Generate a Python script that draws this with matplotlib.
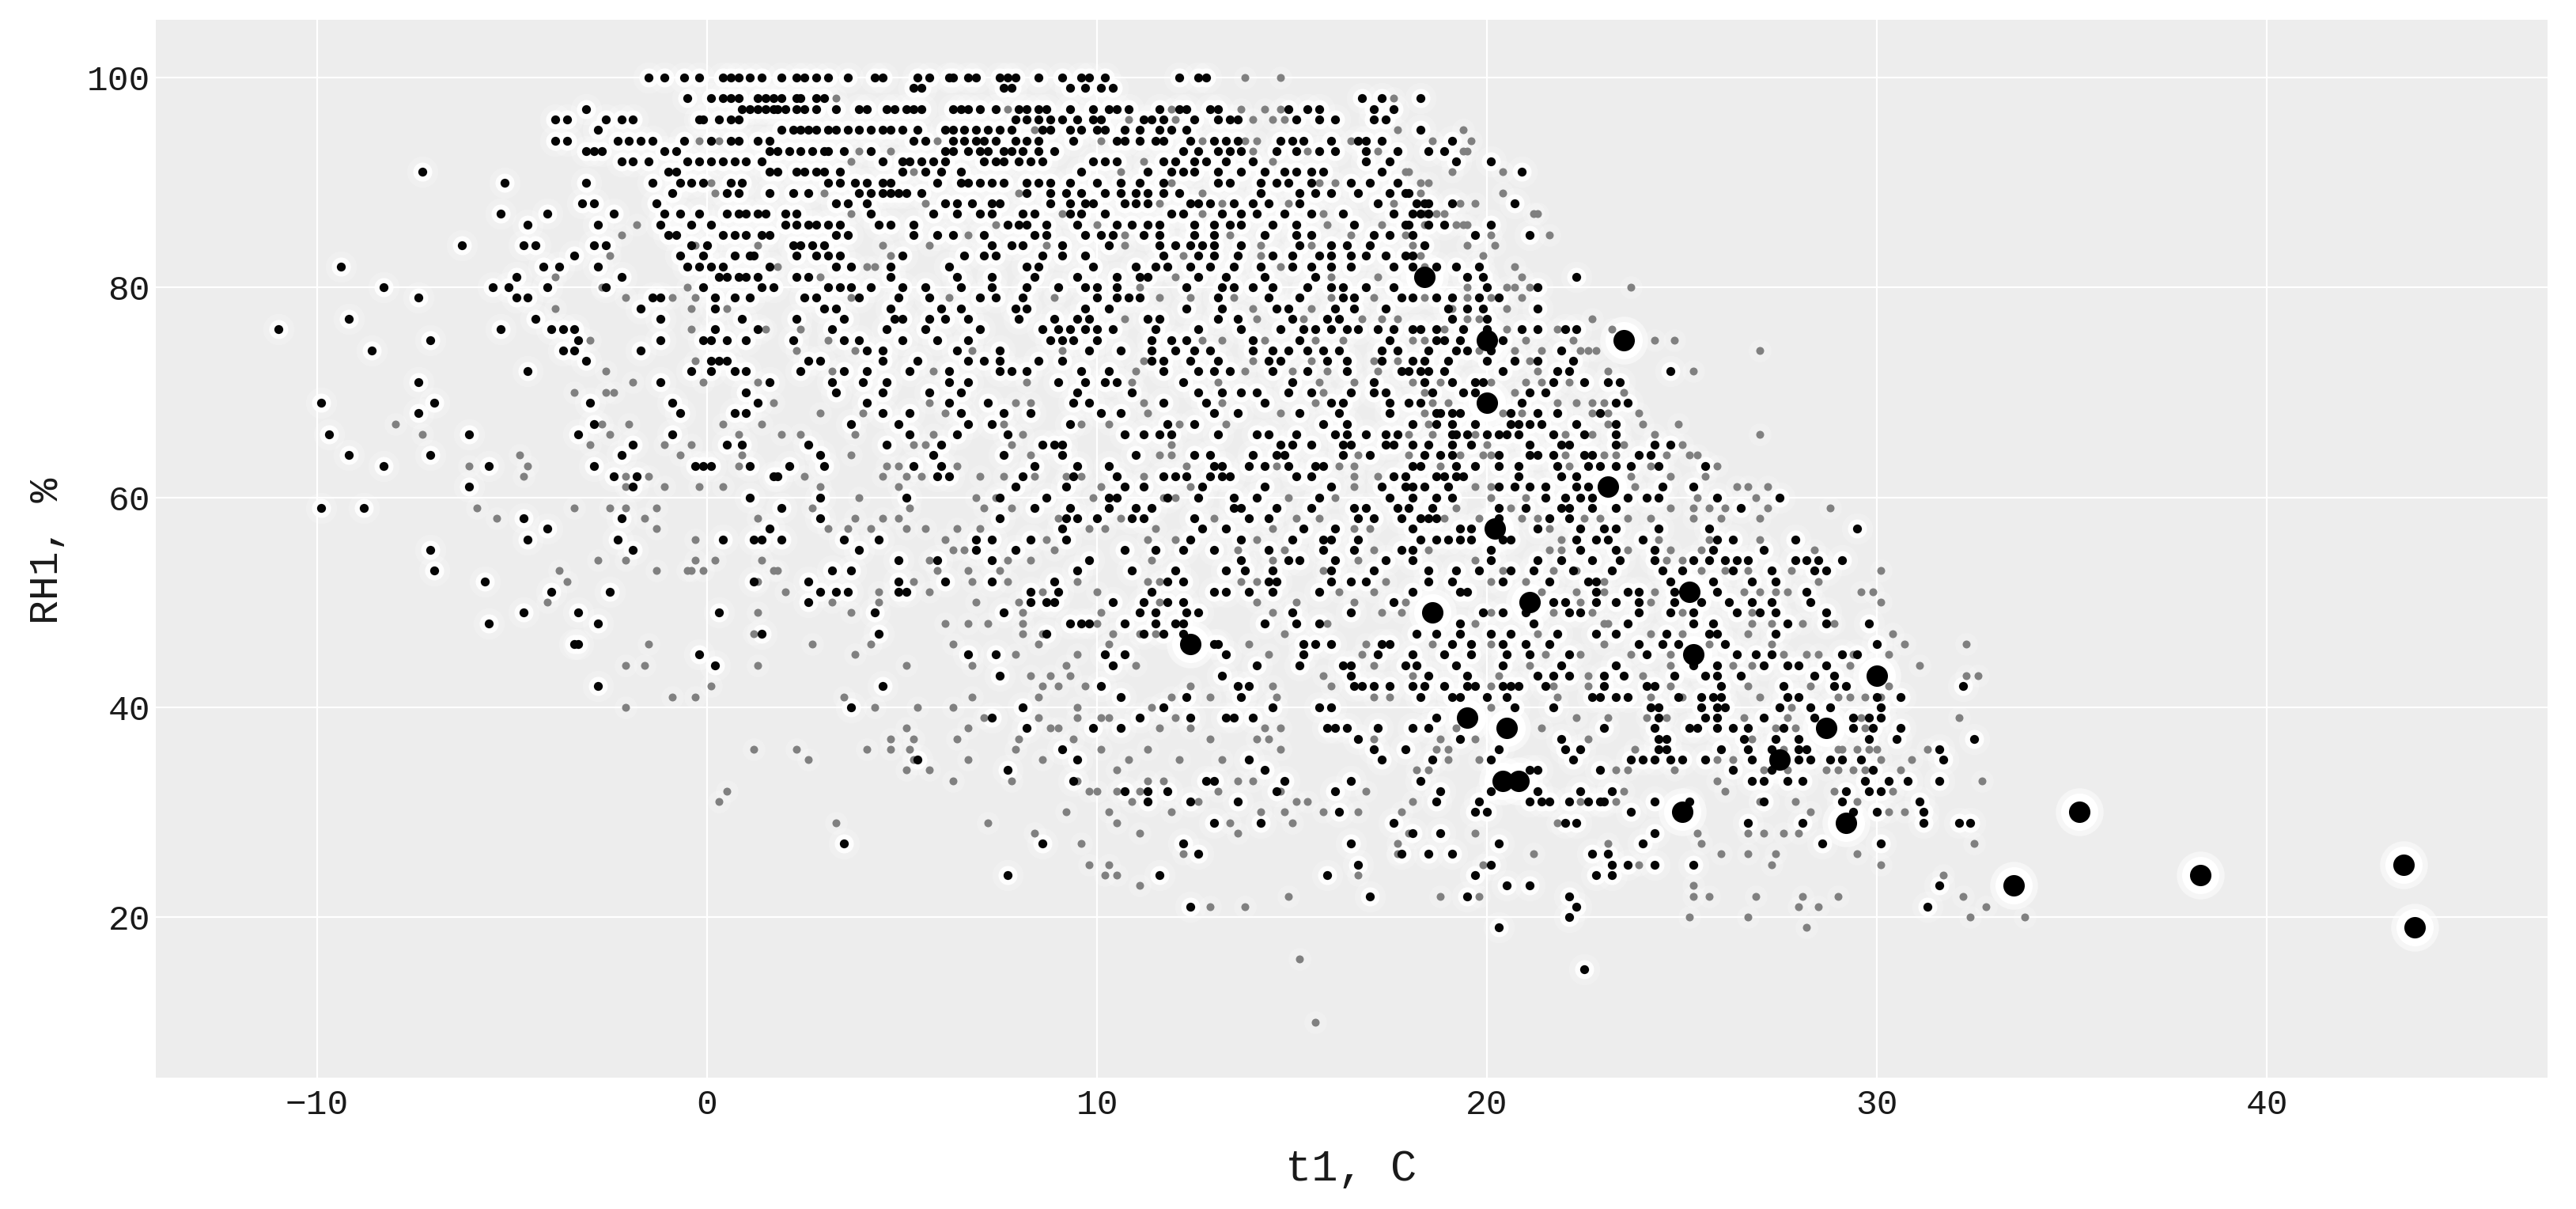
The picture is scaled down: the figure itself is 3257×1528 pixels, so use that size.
import matplotlib
matplotlib.use("Agg")
import matplotlib.pyplot as plt

# Dark points: d<RH> = temperatures read along that RH row. Gray points: g<RH>.
d100 = [-1.5,-1.1,-0.6,-0.2,0.4,0.6,0.8,1.1,1.4,1.9,2.3,2.5,2.8,3.1,3.6,4.3,4.5,5.4,5.7,6.2,6.3,6.7,6.9,7.5,7.7,7.9,8.5,9.1,9.6,9.8,10.2,12.1,12.6,12.8]
g100 = [13.8,14.7]
d99 = [5.3,5.5,7.6,7.8,9.3,9.7,10.1,10.4]
g99 = []
d98 = [-0.5,0.1,0.4,0.6,0.8,1.3,1.5,1.7,1.9,2.3,2.4,2.8,3.0,16.8,17.3,18.3]
g98 = [3.3,17.6]
d97 = [-3.1,0.9,1.1,1.3,1.5,1.7,1.8,2.0,2.3,2.5,2.8,3.3,3.9,4.1,4.6,4.8,5.1,5.3,5.5,6.3,6.5,6.7,7.0,7.4,8.0,8.2,8.5,8.7,9.3,9.9,10.3,10.5,10.8,11.6,12.1,12.3,12.9,13.1,14.9,15.4,15.7,17.1,17.6]
g97 = [7.7,11.9,13.7,14.3,14.7]
d96 = [-3.9,-3.6,-2.6,-2.2,-1.9,-0.2,-0.1,0.3,0.6,0.8,7.9,8.2,8.5,8.8,9.1,9.5,9.9,10.1,11.2,11.4,11.7,12.5,13.1,13.4,13.6,15.1,15.7,16.1,17.1,17.4]
g96 = [10.8,12.0,14.0,14.5,14.8]
d95 = [-2.8,1.9,2.2,2.4,2.6,2.8,3.1,3.3,3.6,3.9,4.2,4.5,4.7,5.0,5.4,6.1,6.3,6.6,6.9,7.2,7.5,7.8,8.6,8.8,9.3,9.6,10.0,10.2,10.7,11.1,11.6,11.9,12.3,18.3]
g95 = [8.4,17.7,19.4]
d94 = [-3.9,-3.6,-2.3,-2.0,-1.7,-1.4,-0.6,0.1,0.6,0.8,1.3,1.6,5.3,5.6,6.3,6.6,6.9,7.1,7.4,7.9,8.2,8.5,9.4,10.5,10.7,11.1,11.5,11.7,12.4,13.0,13.3,13.6,14.7,15.0,15.3,16.0,16.7,16.9,17.3,19.1]
g94 = [-0.2,0.3,5.9,10.1,12.7,13.8,14.1,16.5,18.6,19.6]
d93 = [-3.1,-2.9,-2.7,-1.1,-0.8,1.6,1.8,2.1,2.4,2.7,3.0,3.1,3.5,4.2,6.1,6.3,6.7,7.0,7.2,7.6,7.8,8.1,8.5,8.9,12.2,12.6,13.1,13.4,13.7,14.6,15.1,15.7,16.1,16.9,17.7,18.5,18.9]
g93 = [3.9,4.7,14.0,15.4,17.2,19.4,19.5]
d92 = [-2.2,-1.9,-1.5,-0.5,-0.2,0.1,0.4,0.7,1.0,1.4,4.5,5.0,5.2,5.5,5.8,6.1,7.1,7.4,7.6,8.0,8.3,8.6,9.9,10.2,10.5,11.7,12.0,12.5,12.8,13.3,14.0,16.9,17.5,19.2,20.1]
g92 = [3.7,11.2,14.5]
d91 = [-7.3,-1.0,-0.8,1.6,1.8,2.3,2.5,2.8,3.0,3.4,5.0,5.6,6.0,6.5,9.6,11.3,11.9,12.2,12.5,13.1,13.7,14.3,14.8,15.1,15.5,15.8,17.3,20.9]
g91 = [5.3,10.6,17.9,18.0,19.1,20.4]
d90 = [-5.2,-3.1,-1.4,-0.7,-0.4,-0.1,0.6,0.9,3.1,3.4,3.8,4.1,4.5,4.7,5.9,6.5,6.7,7.0,7.3,7.6,8.2,8.5,8.8,9.3,10.0,10.6,11.1,11.7,13.1,13.4,14.2,14.6,14.9,15.5,16.5,17.0,17.7]
g90 = [0.1,11.9,15.7,16.1,18.3,18.5]
d89 = [-0.9,0.5,0.8,1.6,2.2,2.6,3.9,4.2,4.5,4.7,4.9,5.1,5.5,8.2,8.8,9.2,9.6,10.2,10.6,11.0,11.3,11.7,12.1,14.2,15.2,15.6,16.0,16.7,17.5,17.9,18.0]
g89 = [0.2,3.0,8.0,12.7,18.3,20.4]
d88 = [-3.2,-2.9,-1.3,3.3,3.6,4.1,6.1,6.4,6.8,7.3,7.5,8.8,9.3,9.7,9.9,10.7,11.0,11.3,12.4,12.6,12.9,13.5,14.0,14.4,15.2,17.2,18.2,18.4,18.5,19.1,20.7]
g88 = [5.6,11.6,13.2,14.9,17.6,19.3,19.7]
d87 = [-5.3,-4.1,-2.4,-1.1,-0.7,-0.2,0.5,0.8,1.0,1.3,1.5,2.0,2.3,4.2,5.8,6.4,7.0,7.3,8.1,8.4,9.3,9.6,10.2,11.9,12.2,13.2,13.7,14.1,14.8,15.5,16.3,17.6,18.1,18.3,18.5]
g87 = [3.7,9.1,12.7,15.8,18.4,18.7,18.9,21.2,21.3]
d86 = [-4.6,-2.8,-1.2,-0.4,0.1,2.0,2.3,2.6,2.8,3.1,3.4,4.4,4.7,5.3,7.7,8.0,8.2,8.7,9.5,10.5,10.9,11.3,11.6,12.5,13.0,13.4,13.7,14.5,15.1,16.6,17.9,18.0,18.5,18.9,20.1]
g86 = [-1.8,7.4,10.0,15.9,17.3,18.4,19.2,19.4,19.5]
d85 = [-1.0,-0.8,0.4,0.7,1.0,1.4,1.6,3.3,3.6,5.3,5.9,6.3,7.1,8.4,8.7,9.7,10.1,10.4,11.2,11.6,12.5,13.0,14.3,15.1,15.5,17.1,17.5,18.1,19.7,21.1]
g85 = [-2.2,6.7,10.7,13.4,16.5,17.9,20.1,21.6]
d84 = [-6.3,-4.7,-4.4,-2.9,-2.6,-0.4,0.0,2.2,2.4,2.7,3.0,7.3,7.8,8.1,9.1,10.3,11.6,12.0,12.4,12.7,13.0,13.7,15.2,16.0,16.4,17.0,18.4]
g84 = [-0.3,1.3,4.5,5.7,8.7,10.7,14.2,15.5,18.1,19.5,20.2]
d83 = [-3.4,-0.7,-0.1,0.7,1.1,1.2,2.3,2.8,3.1,3.4,5.0,6.6,7.1,7.4,8.6,9.1,9.7,11.7,12.6,13.0,13.6,14.5,15.0,15.7,16.0,16.5,16.9,17.4,17.9,18.1]
g83 = [-2.5,4.7,12.2,14.2,18.3,19.9]
d82 = [-9.4,-4.2,-3.8,-2.8,-0.5,-0.2,0.1,0.4,1.6,3.3,3.7,4.7,6.2,8.2,8.5,9.9,11.0,11.5,11.8,12.4,12.9,13.5,14.2,15.0,15.5,16.0,16.5,17.6,18.1,18.7,19.2,19.8]
g82 = [1.8,4.1,4.3,14.7,18.4,20.7]
d81 = [-4.9,-2.2,0.3,0.5,0.8,1.0,1.3,2.3,2.6,4.7,6.4,7.3,8.4,9.5,10.5,11.1,11.3,12.6,13.3,14.3,15.6,19.5,19.9,22.3]
g81 = [-3.9,2.9,12.0,16.0,17.2,20.9]
d80 = [-8.3,-5.5,-5.1,-4.1,-2.6,-0.1,1.4,1.7,3.1,3.4,3.7,4.2,5.0,5.6,6.5,7.3,8.2,9.0,9.7,10.0,10.5,12.3,13.2,13.5,14.0,14.5,15.4,16.0,16.3,16.9,17.6,20.0,21.3]
g80 = [-2.7,-0.5,11.1,19.5,20.5,20.7,21.1,23.7]
d79 = [-7.4,-4.9,-4.6,-1.4,-1.2,0.2,0.7,1.1,2.5,2.8,3.9,4.9,5.7,7.0,7.4,8.1,10.0,10.5,10.8,11.1,13.1,14.4,15.2,16.3,16.6,17.8,18.1,18.7,19.1,19.8,20.3]
g79 = [-2.1,-0.9,-0.3,3.7,6.2,8.9,11.6,12.4,13.5,16.0,17.1,18.4,19.5,20.1,20.9]
d78 = [-1.7,0.2,3.0,3.3,4.7,6.0,6.5,7.9,8.2,9.7,10.3,12.3,13.2,14.6,14.9,16.1,16.6,17.4,19.0,19.5,19.9,21.3]
g78 = [-3.9,-0.4,0.5,14.0,15.5,19.1,20.5]
d77 = [-9.2,-4.4,-1.2,0.9,2.3,3.5,4.8,5.0,5.7,6.1,6.7,8.0,8.9,9.5,9.8,11.3,11.6,13.1,13.6,15.0,15.9,16.2,19.1,20.0]
g77 = [10.7,14.1,15.3,16.8,17.3,17.7,19.5,19.8,22.7]
d76 = [-11.0,-5.3,-4.0,-3.7,-3.4,0.2,1.3,3.2,4.6,5.6,7.0,8.6,9.0,9.3,9.7,10.0,10.4,11.5,12.6,13.7,14.7,15.3,15.6,16.0,16.4,16.7,17.2,17.6,18.1,18.3,18.7,19.4,20.0,20.9,21.3,22.0,22.3]
g76 = [-0.4,1.5,2.4,18.9,20.5,21.8,23.2]
d75 = [-7.1,-3.3,-1.2,-0.1,0.1,0.5,1.0,2.2,3.5,3.9,5.0,5.9,6.7,8.8,9.1,9.4,10.0,11.4,11.9,12.3,14.0,15.2,17.5,18.7,18.9,19.3,20.4]
g75 = [-3.0,3.1,12.7,13.2,14.3,15.6,16.3,18.1,18.4,21.0,22.2,24.3,24.8]
d74 = [-8.6,-3.7,-3.4,-1.7,4.1,4.5,6.4,7.5,9.8,10.6,11.4,12.0,12.5,12.9,14.0,14.5,14.9,15.4,15.8,16.2,17.3,17.7,18.5,19.2,19.5,20.1,21.9]
g74 = [2.3,3.8,6.8,9.1,19.8,20.7,21.4,22.4,22.6,22.8,27.0]
d73 = [-3.1,0.1,0.3,0.5,2.6,2.9,4.5,5.4,6.7,7.1,7.5,8.5,9.1,11.4,11.7,12.4,13.1,14.4,14.7,15.9,16.4,17.3,18.1,18.4,19.0,20.0,20.7,21.3,22.2]
g73 = [-0.3,11.2,14.0,15.5,17.1,17.7,21.1]
d72 = [-4.6,-0.4,0.1,0.7,1.0,2.4,3.5,4.1,5.2,6.2,7.5,7.8,8.2,9.6,10.3,11.7,12.6,13.0,13.4,14.5,15.4,16.4,17.8,18.0,18.3,18.5,18.9,20.4,21.8,22.1,24.7]
g72 = [-2.6,3.2,5.8,11.0,13.8,15.0,15.9,17.2,21.3,23.1,25.3]
d71 = [-7.4,-1.2,1.6,3.2,4.0,4.6,6.2,6.7,9.0,9.7,10.2,10.5,12.2,15.0,17.1,18.4,19.1,19.7,19.9,21.7,22.5,23.1,23.4]
g71 = [-1.9,-0.1,1.3,8.2,10.9,13.1,15.7,16.6,18.1,18.8,20.1,21.0,21.4,22.1]
d70 = [1.0,3.3,4.5,5.7,6.5,9.5,10.9,12.6,13.2,13.7,14.1,14.9,15.5,16.5,17.1,17.4,18.6,19.4,19.7,21.1,21.5]
g70 = [-3.4,-2.6,-2.4,15.8,18.4,20.7,23.5]
d69 = [-9.9,-7.0,-3.0,-0.9,1.3,4.1,6.2,7.2,9.4,9.8,11.7,12.8,14.3,16.0,16.3,17.5,18.0,18.3,20.9,23.3,23.6]
g69 = [1.7,5.7,7.9,8.3,11.2,13.2,15.6,18.6,19.0,21.8,22.3,22.7,23.0]
d68 = [-7.4,-0.7,0.7,1.0,4.5,5.2,6.5,7.6,8.3,10.1,10.6,13.0,13.6,15.2,16.2,17.5,18.7,18.8,19.1,19.3,20.6,21.3,21.8,22.9]
g68 = [2.9,4.0,6.1,11.3,14.7,18.4,20.4,20.9,22.7,23.1,23.9]
d67 = [-2.9,3.7,4.9,6.7,7.3,9.3,11.8,12.5,15.8,16.4,18.1,18.7,19.1,19.7,20.6,20.8,21.1,21.4,22.3,23.3]
g67 = [-8.0,-2.7,-2.0,0.4,1.4,7.6,9.6,10.3,12.1,13.3,18.5,23.1,24.0,24.9]
d66 = [-9.7,-6.1,-3.3,-0.9,5.2,6.4,7.7,10.7,11.2,11.6,11.9,13.1,14.1,14.4,15.1,16.1,16.4,16.9,17.4,17.7,19.1,19.2,19.5,20.0,20.3,20.5,20.8,21.7,22.5,23.3]
g66 = [-7.3,-2.5,0.8,1.9,2.4,3.8,5.8,8.1,18.0,18.6,19.7,22.0,22.7,24.3,27.0]
d65 = [-1.9,0.5,0.9,2.6,4.6,6.0,8.6,8.9,9.1,14.7,15.0,15.5,16.3,16.5,17.4,17.6,18.1,18.5,19.1,19.6,21.1,21.9,22.1,23.3,24.3,24.7]
g65 = [-3.0,-1.1,-0.4,5.3,5.6,7.8,11.9,20.0,23.5,25.0]
d64 = [-9.2,-7.1,-2.2,2.9,5.8,7.6,9.1,11.0,12.5,12.9,14.0,14.6,14.8,16.3,17.0,18.4,18.8,19.1,20.3,21.1,21.3,21.7,22.5,22.7,23.9,24.2]
g64 = [-4.8,-0.7,0.9,3.7,8.3,11.6,11.9,16.7,18.0,19.3,19.9,20.1,22.0,23.0,23.3,24.6,25.2,25.4]
d63 = [-8.3,-5.6,-2.9,-0.3,-0.1,0.1,1.1,2.1,3.0,5.3,6.0,8.4,9.5,10.3,13.0,13.2,13.9,14.3,14.9,15.6,15.8,18.1,18.3,19.2,19.7,20.3,20.8,21.8,22.6,22.9,23.3,23.7,24.4,25.6]
g63 = [-6.1,-4.6,0.8,4.6,4.9,6.4,12.3,14.6,16.2,16.6,18.8,22.1,24.2,25.9]
d62 = [-2.4,-1.8,1.7,1.8,5.9,6.2,8.1,9.4,10.5,11.7,12.0,12.3,12.9,13.2,13.4,15.1,15.5,17.6,17.9,18.7,18.9,19.2,19.4,20.8,21.9,22.3]
g62 = [-4.7,-2.1,-1.5,2.5,4.5,5.1,5.5,7.0,7.6,8.4,9.2,9.6,11.2,16.6,17.2,23.7,24.7,25.6]
d61 = [-6.1,-1.9,7.9,9.2,10.7,11.2,12.7,14.3,16.0,17.3,17.9,18.1,18.4,19.0,20.3,20.7,21.1,21.5,22.3,22.6,24.5,25.3]
g61 = [-2.1,-1.1,-0.2,0.4,2.9,4.9,10.1,12.4,16.6,19.7,20.1,23.8,26.4,26.7,27.2]
d60 = [1.1,2.9,5.1,7.5,8.7,10.3,10.5,11.8,12.6,13.5,14.1,15.7,17.5,18.1,18.7,19.1,21.5,22.0,22.4,22.7,23.6,24.1,24.4,25.9,27.5]
g60 = [3.9,6.9,7.4,9.9,11.7,12.0,14.9,16.1,20.1,21.0,25.4,26.9]
d59 = [-9.9,-8.8,1.9,8.4,9.3,10.3,11.0,11.4,13.5,13.7,14.6,15.5,16.6,16.9,17.7,18.0,18.6,20.3,21.0,21.9,22.1,22.7,23.3,26.5]
g59 = [-5.9,-3.4,-2.5,-2.1,-1.3,2.7,5.2,7.1,7.8,19.2,20.6,24.7,25.3,25.7,26.1,27.2,28.8]
d58 = [-4.7,-2.2,2.9,7.5,9.2,9.5,10.0,10.9,11.2,12.5,13.9,14.4,16.7,17.1,17.8,18.3,18.5,18.7,20.3,21.6,22.1]
g58 = [-5.4,-1.6,1.3,3.8,4.5,4.9,9.0,10.6,13.0,15.1,15.7,18.9,19.8,20.9,21.3,22.5,22.9,23.6,24.2,25.3,26.0,27.0]
d57 = [-4.1,1.6,9.1,12.7,13.3,15.3,16.1,18.1,19.3,19.6,21.3,22.4,23.0,23.3,24.4,25.7,29.5]
g57 = [-1.3,3.1,3.6,4.2,5.1,5.6,6.4,7.0,9.8,10.2,11.5,14.5,16.6,17.0,21.6]
d56 = [-4.6,-2.3,0.4,1.2,1.4,1.9,3.5,4.4,6.9,7.3,8.3,9.2,12.4,13.7,15.0,15.8,16.0,16.7,18.3,18.7,19.0,19.3,19.6,20.4,20.6,22.3,22.8,23.1,24.0,25.9,26.3,27.9]
g56 = [-0.3,6.1,8.7,11.3,12.0,14.1,21.9,24.4,25.7,27.0]
d55 = [-7.1,-1.9,3.9,6.9,7.9,10.7,11.5,12.2,13.0,14.4,15.8,16.6,17.8,18.1,20.1,22.4,23.3,24.3,25.8,27.1]
g55 = [6.3,6.6,8.9,13.6,14.8,17.1,18.5,21.6,21.9,23.6,24.7,25.5,28.4]
d54 = [4.9,5.9,7.3,9.8,13.7,14.9,15.2,16.1,17.4,18.1,20.1,21.3,21.9,22.7,23.4,24.3,25.3,25.7,26.1,26.4,26.7,27.9,28.2,28.5,29.1]
g54 = [-2.8,-2.1,-0.3,0.2,1.4,5.7,7.7,8.3,11.4,14.5,16.7,19.7,24.6,25.0]
d53 = [-7.0,3.2,3.7,9.5,10.9,12.0,13.3,13.8,14.5,16.0,17.1,18.5,19.2,19.8,20.6,21.2,22.2,23.2,24.5,25.0,26.3,27.3,28.4,28.7]
g53 = [-3.8,-1.3,-0.5,-0.4,-0.1,1.7,1.8,5.9,6.7,7.5,15.8,20.4,21.7,22.3,25.5,26.1,26.7,27.8,30.1]
d52 = [-5.7,1.2,2.6,4.9,6.1,7.3,8.9,11.8,12.2,14.4,14.6,16.0,16.5,16.9,18.5,19.1,20.4,21.6,22.6,22.8,24.7,25.8,26.8,27.4]
g52 = [-3.6,1.3,5.3,6.8,7.7,9.5,11.3,11.6,13.7,14.1,17.4,20.1,21.0,23.0,28.5]
d51 = [-4.0,-2.5,2.9,3.3,3.6,4.9,5.1,8.3,9.0,11.4,13.0,13.3,13.9,14.5,15.7,18.1,19.3,19.5,22.8,23.6,23.9,24.8,25.9,28.2]
g51 = [2.0,4.4,5.7,8.6,10.0,16.2,17.1,21.4,22.3,23.0,24.3,26.6,27.0,27.4,27.7,29.6,29.9]
d50 = [2.6,8.3,8.7,8.9,10.4,11.2,11.8,12.2,17.6,21.7,22.0,22.8,23.3,23.9,24.8,25.5,26.2,26.8,27.3,28.3]
g50 = [-4.1,3.2,4.4,6.9,8.0,11.6,14.1,15.1,16.6,17.9,22.4,24.2,30.1]
d49 = [-4.7,-3.3,0.3,4.3,7.6,11.1,11.5,12.3,12.6,15.0,16.5,19.9,20.4,21.0,22.1,22.4,23.9,24.7,25.3,26.4,27.0,27.4,28.7]
g49 = [1.3,3.7,8.1,10.1,14.5,17.3,17.8,20.1,21.7,22.7,25.0,26.8]
d48 = [-5.6,-2.8,9.3,9.6,9.8,10.7,11.5,12.0,12.2,14.3,15.1,15.7,19.3,21.2,23.6,25.3,25.8,27.7,28.7,29.8]
g48 = [6.1,6.7,7.2,8.1,10.0,15.9,19.7,23.0,23.1,26.8,27.3,28.1,28.9]
d47 = [1.4,4.4,8.7,11.2,11.7,12.2,18.2,18.7,19.3,20.1,20.6,21.8,22.8,23.3,24.6,25.7,25.9,27.4]
g47 = [1.2,8.1,8.6,10.4,11.1,11.5,14.8,21.3,24.2,25.0,26.7,30.4]
d46 = [-3.4,-3.3,13.0,13.1,15.3,15.6,16.0,17.3,17.5,19.1,19.6,20.4,21.0,21.6,23.9,24.5,24.9,26.1,30.0]
g46 = [-1.5,2.7,4.2,6.3,8.5,10.3,13.9,16.9,18.6,20.1,23.0,25.7,27.3,30.7,32.3]
d45 = [-0.2,6.7,7.4,10.2,10.7,13.3,15.3,17.2,18.1,18.9,19.6,20.5,21.1,22.1,24.1,26.4,26.9,27.3,29.1,29.5]
g45 = [3.8,7.9,9.5,14.4,16.8,21.5,22.4,23.7,24.7,27.6,28.2,28.5,29.4,30.3]
d44 = [0.2,10.4,14.1,15.2,16.3,16.5,17.9,18.2,19.2,20.4,21.9,23.3,25.3,25.9,27.1,27.7,28.0,28.7]
g44 = [-2.1,-1.6,1.3,5.1,6.8,9.2,11.0,17.1,21.1,24.7,26.3,26.8,29.3,31.1]
d43 = [7.5,13.2,16.5,18.5,19.5,21.3,21.7,22.1,23.0,23.5,24.8,25.6,25.9,26.5,28.4,28.9]
g43 = [8.3,8.8,9.3,15.8,18.1,20.3,22.6,24.0,32.3,32.6]
d42 = [-2.8,4.5,10.1,13.6,13.9,16.6,16.8,17.1,17.5,18.1,18.4,18.9,19.5,19.7,20.4,20.6,20.8,21.5,23.0,24.1,24.3,26.0,27.6,28.9,29.2,32.2]
g42 = [0.1,8.6,9.0,9.7,12.4,14.5,16.0,20.1,21.7,22.6,24.7,26.7,28.3,30.3]
d41 = [10.6,12.3,13.7,18.3,19.1,19.3,20.0,20.5,22.7,22.9,23.3,23.6,24.9,25.5,25.8,26.0,27.7,28.0,30.0,30.6]
g41 = [-0.9,-0.3,3.5,6.8,8.5,11.9,12.9,14.6,17.1,17.5,21.8,24.2,25.0,27.0,29.0,29.3,29.7,30.1]
d40 = [3.7,8.1,11.7,14.5,15.7,16.0,20.7,21.7,24.2,24.4,25.5,25.9,26.1,27.5,28.3,28.8,30.1]
g40 = [-2.1,4.3,5.4,6.3,9.5,11.4,20.1,27.8]
d39 = [7.3,11.1,12.4,13.3,13.5,14.0,18.7,24.4,25.6,25.9,27.1,28.4,29.4,29.8,30.1]
g39 = [7.1,8.5,9.5,10.1,10.3,12.0,22.3,23.1,24.1,24.6,26.6,27.7,29.6,32.1]
d38 = [8.2,9.9,10.6,15.9,16.1,16.4,17.2,18.1,18.5,23.0,24.3,25.2,25.4,25.9,26.3,26.7,27.6,29.4,29.9,30.6]
g38 = [5.1,6.7,8.8,9.0,11.6,12.4,14.3,14.7,19.2,21.4,27.4,27.9,29.7]
d37 = [16.7,19.3,21.9,24.4,24.6,26.6,27.4,28.0,29.8,30.5,32.5]
g37 = [4.7,5.3,6.4,8.0,9.4,12.9,14.1,14.4,17.1,18.8,19.7,22.6,26.8]
d36 = [9.1,17.1,17.9,20.3,22.0,22.4,24.4,24.6,26.0,26.7,27.3,28.0,28.2,31.6]
g36 = [1.2,2.3,4.1,4.7,5.2,7.9,10.1,11.3,14.7,18.7,19.0,23.8,27.6,29.0,29.1,29.5,29.8,30.0,31.3]
d35 = [5.4,9.5,13.9,17.3,18.6,20.1,22.2,23.7,24.0,24.3,24.7,25.0,25.6,26.8,28.0,28.3,28.8,29.1,29.6,31.7]
g35 = [2.6,5.3,6.7,8.6,10.8,12.1,13.2,19.0,19.8,25.9,26.3,30.1,30.9]
d34 = [7.7,14.3,21.1,21.3,22.9,26.3,27.3,29.9]
g34 = [5.1,5.7,10.5,18.2,18.5,23.3,23.6,24.8,27.1,27.7,28.7,29.0,29.4,29.7,30.6]
d33 = [9.4,12.8,13.0,14.8,16.5,18.3,26.8,27.1,27.7,28.1,29.7,30.3,30.8,31.6]
g33 = [6.3,7.8,9.5,11.3,11.7,13.6,14.0,25.9,32.7]
d32 = [10.7,11.3,11.8,14.6,16.1,18.8,20.1,21.3,22.4,23.2,29.2,29.8,30.1]
g32 = [0.5,9.8,10.0,10.5,11.1,13.1,14.7,16.9,23.5,26.1,28.9,30.4]
d31 = [11.3,12.4,13.6,18.7,19.8,21.1,21.4,21.6,22.1,22.6,22.9,23.0,24.3,25.2,27.1,29.1,31.1]
g31 = [0.3,10.9,12.6,15.1,15.4,18.1,22.4,23.3,27.0,27.9,29.5]
d30 = [16.2,19.7,20.0,23.7,29.4,30.0,31.2]
g30 = [9.2,10.3,11.9,14.2,14.8,15.8,16.7,17.8,28.3,30.3,30.7]
d29 = [13.0,14.2,17.6,22.0,22.3,26.7,28.1,31.2,32.1,32.4]
g29 = [3.3,7.2,10.5,13.4,15.0,21.8]
d28 = [18.1,18.8,24.3]
g28 = [8.4,11.1,13.6,18.0,19.7,25.4,26.7,27.1,27.6,28.0]
d27 = [3.5,8.6,12.2,16.5,20.3,24.0,28.6,30.1]
g27 = [9.6,17.7,23.1,25.5,32.5]
d26 = [12.6,17.8,18.5,19.1,22.7,23.1]
g26 = [12.2,17.7,21.2,26.0,26.7,27.4,29.5]
d25 = [16.7,20.1,23.2,23.6,24.3,25.3]
g25 = [9.8,10.3,19.9,23.9,27.3,30.1]
d24 = [7.7,11.6,15.9,19.7,22.8,23.2]
g24 = [10.2,10.5,16.7,31.7]
d23 = [20.5,21.1,31.6]
g23 = [11.1,25.3]
d22 = [17.0,19.5,22.1]
g22 = [14.9,18.8,19.8,25.3,25.7,26.9,28.1,29.0,32.2]
d21 = [12.4,22.3,31.3]
g21 = [12.9,13.8,28.0,28.5,32.8]
d20 = [22.1]
g20 = [25.2,26.7,32.4,33.8]
d19 = [20.3]
g19 = [28.2]
d15 = [22.5]
g15 = []
d16 = []
g16 = [15.2]
d10 = []
g10 = [15.6]

rh_rows = [100,99,98,97,96,95,94,93,92,91,90,89,88,87,86,85,84,83,82,81,80,79,78,77,76,75,74,73,72,71,
           70,69,68,67,66,65,64,63,62,61,60,59,58,57,56,55,54,53,52,51,50,49,48,47,46,45,44,43,42,41,
           40,39,38,37,36,35,34,33,32,31,30,29,28,27,26,25,24,23,22,21,20,19,16,15,10]

# Outliers drawn with large markers
big_t = [18.4,20.0,23.5,20.0,23.1,20.2,25.2,21.1,18.6,12.4,25.3,30.0,19.5,20.5,28.7,27.5,20.4,20.8,25.0,29.2,33.5,35.2,38.3,43.5,43.8]
big_rh = [81,75,75,69,61,57,51,50,49,46,45,43,39,38,38,35,33,33,30,29,23,30,24,25,19]

xticks = [-10,0,10,20,30,40]
yticks = [20,40,60,80,100]

dark_t, dark_rh, gray_t, gray_rh = [], [], [], []
for rh in rh_rows:
    for v in globals()[f"d{rh}"]:
        dark_t.append(v); dark_rh.append(rh)
    for v in globals()[f"g{rh}"]:
        gray_t.append(v); gray_rh.append(rh)

plt.rcParams['font.family'] = ['Liberation Mono', 'DejaVu Sans Mono']
fig = plt.figure(figsize=(32.57, 15.28), dpi=100, facecolor='white')
W, H = 3257, 1528
ax = fig.add_axes([197/W, 1-1362/H, (3221-197)/W, (1362-25)/H], facecolor='#ededed')
ax.set_xlim(-14.14, 47.2)
ax.set_ylim(4.7, 105.5)
for s in ax.spines.values():
    s.set_visible(False)
ax.set_axisbelow(True)
ax.grid(True, color='white', linewidth=1.6, zorder=0)
ax.set_xticks(xticks)
ax.set_yticks(yticks)
ax.tick_params(length=0, labelsize=32, labelcolor='#1a1a1a')
ax.tick_params(axis='x', pad=10)
ax.tick_params(axis='y', pad=5)

# soft halos
ax.scatter(gray_t, gray_rh, s=420, c='white', alpha=0.22, linewidths=0, zorder=1)
ax.scatter(dark_t, dark_rh, s=800, c='white', alpha=0.22, linewidths=0, zorder=1.1)
ax.scatter(dark_t, dark_rh, s=300, c='white', alpha=0.9, linewidths=0, zorder=1.2)
ax.scatter(big_t, big_rh, s=1900, c='white', alpha=0.5, linewidths=0, zorder=1.3)
ax.scatter(big_t, big_rh, s=1150, c='white', alpha=1.0, linewidths=0, zorder=1.4)
# points
ax.scatter(gray_t, gray_rh, s=52, c='#808080', linewidths=0, zorder=2)
ax.scatter(dark_t, dark_rh, s=66, c='#050505', linewidths=0, zorder=3)
ax.scatter(big_t, big_rh, s=380, c='black', linewidths=0, zorder=4)

fig.text(1708/W, 1-1478/H, 't1, C', fontsize=40, ha='center', va='center', color='#1a1a1a')
fig.text(60/W, 1-696/H, 'RH1, %', fontsize=37, ha='center', va='center', rotation=90, color='#1a1a1a')
fig.savefig('out.png', dpi=100, facecolor='white')
